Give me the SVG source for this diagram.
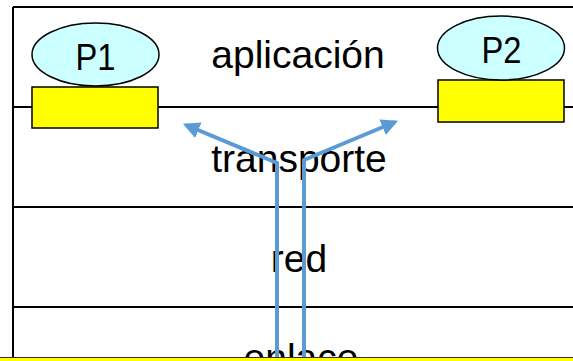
<svg xmlns="http://www.w3.org/2000/svg" width="573" height="361" viewBox="0 0 573 361">
  <style>
    .frame { stroke: #000; stroke-width: 2; fill: none; }
    .proc { fill: #CCFFFF; stroke: #000; stroke-width: 1.5; }
    .sock { fill: #FFFF00; stroke: #000; stroke-width: 1.5; }
    .lbl { font-family: "Liberation Sans", Arial, sans-serif; font-size: 39px; fill: #000; text-anchor: middle; }
    .plbl { font-family: "Liberation Sans", Arial, sans-serif; font-size: 36px; fill: #000; text-anchor: middle; }
    .flow { stroke: #5B9BD5; stroke-width: 4; fill: none; stroke-linejoin: miter; }
  </style>
  <defs>
    <marker id="ah" viewBox="0 0 10 10" refX="8" refY="5" markerWidth="4.2" markerHeight="4.2" markerUnits="strokeWidth" orient="auto">
      <path d="M0,0 L10,5 L0,10 Z" fill="#5B9BD5"/>
    </marker>
  </defs>
  <rect x="0" y="0" width="573" height="361" fill="#fff"/>
  <g id="layers">
    <path class="frame" d="M13,7 H573 M13,7 V358 M13,107 H573 M13,207 H573 M13,307 H573"/>
  </g>
  <g id="layer-labels">
    <text class="lbl" x="298" y="68">aplicación</text>
    <text class="lbl" x="299" y="172">transporte</text>
    <text class="lbl" x="299" y="272">red</text>
    <text class="lbl" x="301" y="371">enlace</text>
  </g>
  <g id="P1">
    <rect class="sock" x="32" y="87" width="126" height="41"/>
    <ellipse class="proc" cx="95.5" cy="54.5" rx="63.5" ry="31.5"/>
    <text class="plbl" x="95.5" y="70" textLength="40" lengthAdjust="spacingAndGlyphs">P1</text>
  </g>
  <g id="P2">
    <rect class="sock" x="438" y="80" width="126" height="42"/>
    <ellipse class="proc" cx="501" cy="48" rx="63.5" ry="32"/>
    <text class="plbl" x="501.5" y="63" textLength="40" lengthAdjust="spacingAndGlyphs">P2</text>
  </g>
  <g id="connectors">
    <path class="flow" d="M277,358 L277,163 L186,125" marker-end="url(#ah)"/>
    <path class="flow" d="M304,358 L304,160 L395,122" marker-end="url(#ah)"/>
  </g>
  <g id="bottom-band">
    <rect x="0" y="357" width="573" height="4" fill="#FFFF00"/>
    <line x1="0" y1="357.5" x2="573" y2="357.5" stroke="#333" stroke-width="1"/>
  </g>
</svg>
